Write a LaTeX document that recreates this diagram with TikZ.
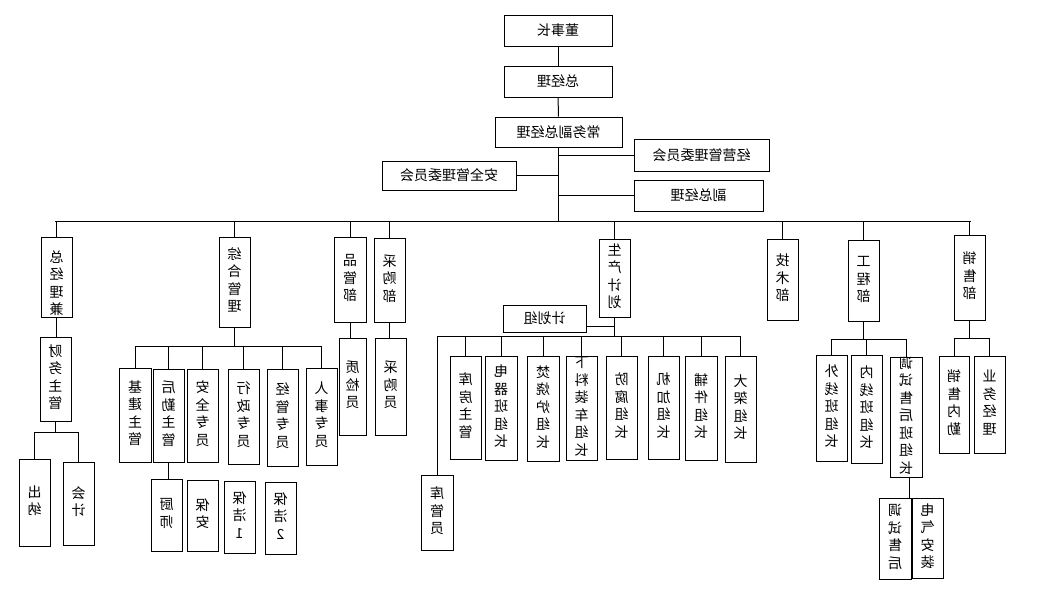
\documentclass[tikz,border=0pt]{standalone}
\usepackage{fontspec}
\usepackage{graphicx}
\setmainfont{Noto Sans CJK SC}
\newcommand\vt[1]{\reflectbox{\begin{tabular}{@{}c@{}}#1\end{tabular}}}
\newcommand\hz[1]{\reflectbox{#1}}
\newcommand\B[7][]{%
  \node[box, minimum width={(#5-#3)*1pt}, minimum height={(#6-#4)*1pt}] (#2) at ({(#3+#5)/2},{(#4+#6)/2}) {};
  \node[lbl,#1] (#2t) at (#2.center) {#7};}
\tikzset{
  box/.style={draw=black, line width=1pt, inner sep=0pt, fill=white},
  lbl/.style={inner sep=0pt, font=\fontsize{14}{17.5}\selectfont},
  conn/.style={draw=black, line width=1pt},
}
\begin{document}
\begin{tikzpicture}[x=1pt,y=-1pt]
\useasboundingbox[fill=white] (0,0) rectangle (1040,613);
% top levels
\B{dsz}{504}{15}{612}{46}{\hz{董事长}}
\B{zjl}{504}{66}{612}{97}{\hz{总经理}}
\B{cwf}{495}{117}{622}{147}{\hz{常务副总经理}}
\B{jyw}{634}{139}{769}{171}{\hz{经营管理委员会}}
\B{aqw}{382}{161}{516}{190}{\hz{安全管理委员会}}
\B{fzj}{634}{180}{763}{211}{\hz{副总经理}}
\coordinate (busL) at (55,221);
\coordinate (busR) at (971,221);
\draw[conn] (dsz) -- (zjl);
\draw[conn] (zjl) -- (cwf);
\draw[conn] (cwf.south) -- (cwf.south |- busL);
\draw[conn] (jyw.west) -- (jyw.west -| cwf.south);
\draw[conn] (aqw.east) -- (aqw.east -| cwf.south);
\draw[conn] (fzj.west) -- (fzj.west -| cwf.south);
\draw[conn] (busL) -- (busR);
% level 1
\B[yshift=-8pt]{zjj}{41}{237}{72}{317}{\vt{总\\经\\理\\兼}}
\B{zhg}{219}{237}{250}{327}{\vt{综\\合\\管\\理}}
\B{pgb}{334}{237}{366}{322}{\vt{品\\管\\部}}
\B{cgb}{374}{238}{405}{322}{\vt{采\\购\\部}}
\B{scj}{599}{239}{630}{317}{\vt{生\\产\\计\\划}}
\B{jsb}{767}{239}{798}{320}{\vt{技\\术\\部}}
\B{gcb}{848}{240}{879}{321}{\vt{工\\程\\部}}
\B{xsb}{954}{235}{985}{320}{\vt{销\\售\\部}}
\foreach \n in {zjj,zhg,pgb,cgb,scj,jsb,gcb,xsb}
  \draw[conn] (\n.north) -- (\n.north |- busL);
% finance
\B{cwz}{40}{337}{71}{421}{\vt{财\\务\\主\\管}}
\B{cn}{19}{459}{50}{546}{\vt{出\\纳}}
\B{kj}{63}{462}{94}{545}{\vt{会\\计}}
\draw[conn] (zjj.south) -- (zjj.south |- cwz.north);
\coordinate (cwbus) at (55,432);
\draw[conn] (cwz.south) -- (cwz.south |- cwbus);
\draw[conn] (cn.north |- cwbus) -- (kj.north |- cwbus);
\draw[conn] (cn.north) -- (cn.north |- cwbus);
\draw[conn] (kj.north) -- (kj.north |- cwbus);
% general management
\B{jjz}{119}{368}{151}{462}{\vt{基\\建\\主\\管}}
\B{hqz}{153}{369}{184}{462}{\vt{后\\勤\\主\\管}}
\B{aqz}{187}{369}{218}{462}{\vt{安\\全\\专\\员}}
\B{xzz}{228}{369}{259}{464}{\vt{行\\政\\专\\员}}
\B{jgz}{267}{369}{298}{466}{\vt{经\\管\\专\\员}}
\B{rsz}{306}{368}{337}{465}{\vt{人\\事\\专\\员}}
\coordinate (zhbus) at (236,346);
\draw[conn] (zhg.south) -- (zhg.south |- zhbus);
\draw[conn] (jjz.north |- zhbus) -- (rsz.north |- zhbus);
\foreach \n in {jjz,hqz,aqz,xzz,jgz,rsz}
  \draw[conn] (\n.north) -- (\n.north |- zhbus);
\B{cs}{151}{479}{182}{551}{\vt{厨\\师}}
\B{ba}{187}{480}{218}{551}{\vt{保\\安}}
\B{bja}{224}{481}{255}{553}{\vt{保\\洁\\1}}
\B{bjb}{265}{482}{296}{554}{\vt{保\\洁\\2}}
\draw[conn] (hqz.south) -- (hqz.south |- cs.north);
% quality, purchasing
\B{zjy}{339}{338}{366}{435}{\vt{质\\检\\员}}
\B{cgy}{375}{338}{406}{435}{\vt{采\\购\\员}}
\draw[conn] (pgb.south) -- (pgb.south |- zjy.north);
\draw[conn] (cgb.south) -- (cgb.south |- cgy.north);
% production
\B{jhz}{503}{305}{586}{332}{\hz{计划组}}
\coordinate (jhzc) at ([yshift=-7.5pt]jhz.east);
\coordinate (scbus) at (617,336);
\draw[conn] (scj.south) -- (scj.south |- scbus);
\draw[conn] (jhzc) -- (jhzc -| scj.south);
\B{kgy}{421}{475}{453}{550}{\vt{库\\管\\员}}
\B{kfz}{450}{356}{481}{459}{\vt{库\\房\\主\\管}}
\B{dqz}{485}{356}{517}{460}{\vt{电\\器\\班\\组\\长}}
\B{fsl}{527}{356}{559}{461}{\vt{焚\\烧\\炉\\组\\长}}
\B{xlz}{566}{356}{597}{460}{\vt{下\\料\\装\\车\\组\\长}}
\B{ffz}{606}{356}{637}{459}{\vt{防\\腐\\组\\长}}
\B{jjg}{648}{356}{679}{459}{\vt{机\\加\\组\\长}}
\B{fjz}{685}{356}{717}{460}{\vt{辅\\件\\组\\长}}
\B{djz}{725}{356}{756}{462}{\vt{大\\架\\组\\长}}
\draw[conn] (kgy.north |- scbus) -- (djz.north |- scbus);
\foreach \n in {kgy,kfz,dqz,fsl,xlz,ffz,jjg,fjz,djz}
  \draw[conn] (\n.north) -- (\n.north |- scbus);
% engineering
\coordinate (gcbus) at (864,339);
\B{wxz}{816}{355}{847}{461}{\vt{外\\线\\班\\组\\长}}
\B{nxz}{851}{355}{882}{463}{\vt{内\\线\\班\\组\\长}}
\B{tsz}{890}{357}{922}{477}{\vt{调\\试\\售\\后\\班\\组\\长}}
\draw[conn] (gcb.south) -- (gcb.south |- gcbus);
\draw[conn] (wxz.north |- gcbus) -- (tsz.north |- gcbus);
\foreach \n in {wxz,nxz,tsz}
  \draw[conn] (\n.north) -- (\n.north |- gcbus);
\B{tssh}{879}{498}{911}{579}{\vt{调\\试\\售\\后}}
\B{dqaz}{912}{498}{943}{578}{\vt{电\\气\\安\\装}}
\draw[conn] ([xshift=3pt]tsz.south) -- ([xshift=3pt]tsz.south |- tssh.north);
% sales
\coordinate (xsbus) at (970,338);
\B{xsnq}{939}{356}{969}{453}{\vt{销\\售\\内\\勤}}
\B{ywjl}{974}{356}{1005}{453}{\vt{业\\务\\经\\理}}
\draw[conn] (xsb.south) -- (xsb.south |- xsbus);
\draw[conn] (xsnq.north |- xsbus) -- (ywjl.north |- xsbus);
\draw[conn] (xsnq.north) -- (xsnq.north |- xsbus);
\draw[conn] (ywjl.north) -- (ywjl.north |- xsbus);
\end{tikzpicture}
\end{document}
